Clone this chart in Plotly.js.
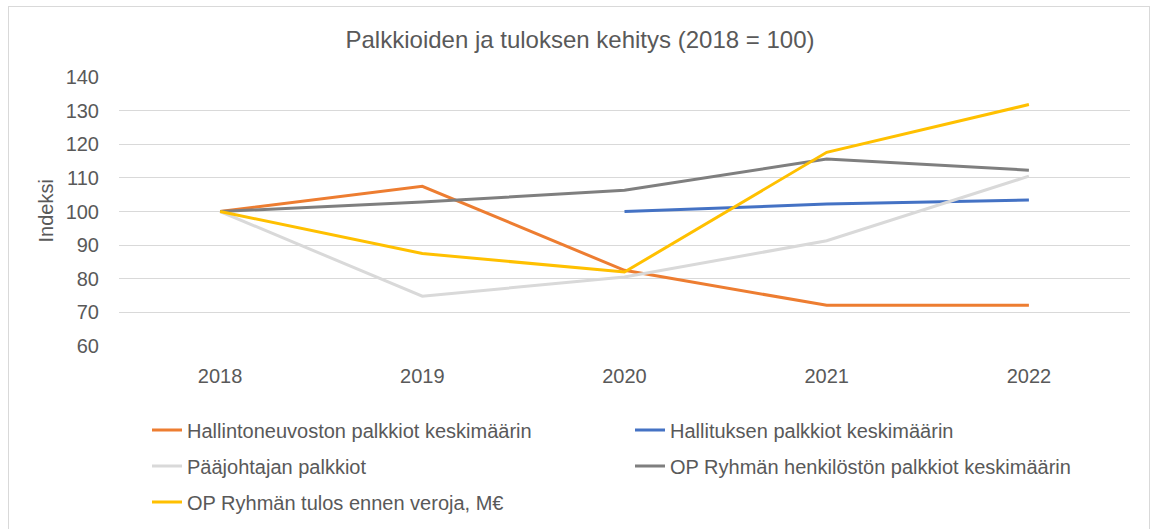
<!DOCTYPE html>
<html>
<head>
<meta charset="utf-8">
<script src="https://cdn.plot.ly/plotly-3.0.1.min.js"></script>
<style>
  html, body { margin: 0; padding: 0; background: #fff; }
  #wrap { position: absolute; left: 0; top: 0; width: 1155px; height: 529px; }
  #frame { position: absolute; left: 8px; top: 6px; width: 1142px; height: 540px; border: 1px solid #d9d9d9; box-sizing: border-box; pointer-events: none; }
  #chart { position: absolute; left: 0; top: 0; width: 1155px; height: 529px; }
</style>
</head>
<body>
<div id="wrap">
  <div id="chart"></div>
  <div id="frame"></div>
</div>
<script>
const years = ['2018', '2019', '2020', '2021', '2022'];
const hallintoneuvosto = [100, 107.5, 82.5, 72.1, 72.1];
const hallitus = [null, null, 100, 102.2, 103.4];
const paajohtaja = [100, 74.8, 80.5, 91.3, 110.5];
const henkilosto = [100, 102.8, 106.3, 115.6, 112.3];
const tulos = [100, 87.5, 82.0, 117.6, 131.8];
const yTicks = [60, 70, 80, 90, 100, 110, 120, 130, 140];

const names = [
  'Hallintoneuvoston palkkiot keskimäärin',
  'Hallituksen palkkiot keskimäärin',
  'Pääjohtajan palkkiot',
  'OP Ryhmän henkilöstön palkkiot keskimäärin',
  'OP Ryhmän tulos ennen veroja, M€'
];
const series = [hallintoneuvosto, hallitus, paajohtaja, henkilosto, tulos];
const colors = ['#ED7D31', '#4472C4', '#D9D9D9', '#7F7F7F', '#FFC000'];
const legendIds = ['legend', 'legend2', 'legend3', 'legend4', 'legend5'];

const traces = series.map((s, i) => ({
  type: 'scatter', mode: 'lines', x: years, y: s, name: names[i],
  line: { color: colors[i], width: 3 }, legend: legendIds[i],
  connectgaps: false
}));

const W = 1155, H = 529;
const fontFam = '"Liberation Sans", Arial, sans-serif';
const txt = '#595959';
const plotL = 119, plotR = 1130, plotT = 77, plotB = 346;
function leg(px, py) {
  return {
    orientation: 'v', xref: 'container', yref: 'container',
    xanchor: 'left', yanchor: 'middle', x: px / W, y: 1 - py / H,
    font: { family: fontFam, size: 20, color: txt }, bgcolor: 'rgba(0,0,0,0)', itemwidth: 30
  };
}

const layout = {
  width: W, height: H,
  margin: { l: plotL, r: W - plotR, t: plotT, b: H - plotB, autoexpand: false },
  paper_bgcolor: '#fff', plot_bgcolor: '#fff',
  font: { family: fontFam, color: txt },
  title: { text: 'Palkkioiden ja tuloksen kehitys (2018 = 100)', x: 580 / W, xref: 'container', xanchor: 'center', y: 1 - 40 / H, yanchor: 'middle', font: { family: fontFam, size: 24, color: txt } },
  xaxis: {
    type: 'category', range: [-0.5, 4.5], showgrid: false, zeroline: false,
    showline: false, ticks: '', ticklabelstandoff: 16, automargin: false,
    tickfont: { family: fontFam, size: 20, color: txt }
  },
  yaxis: {
    range: [60, 140], tickvals: yTicks, showgrid: true, gridcolor: '#D9D9D9', gridwidth: 1,
    zeroline: false, showline: false, ticks: '', ticklabelstandoff: 19, automargin: false,
    tickfont: { family: fontFam, size: 20, color: txt }
  },
  annotations: [{
    text: 'Indeksi', textangle: -90, xref: 'paper', yref: 'paper',
    x: (45 - plotL) / (plotR - plotL), y: 0.5, xanchor: 'center', yanchor: 'middle',
    showarrow: false, font: { family: fontFam, size: 20, color: txt }
  }],
  showlegend: true,
  legend: leg(147, 430),
  legend2: leg(630, 430),
  legend3: leg(147, 466),
  legend4: leg(630, 466),
  legend5: leg(147, 502)
};

Plotly.newPlot('chart', traces, layout, { displayModeBar: false, staticPlot: true });
</script>
</body>
</html>
